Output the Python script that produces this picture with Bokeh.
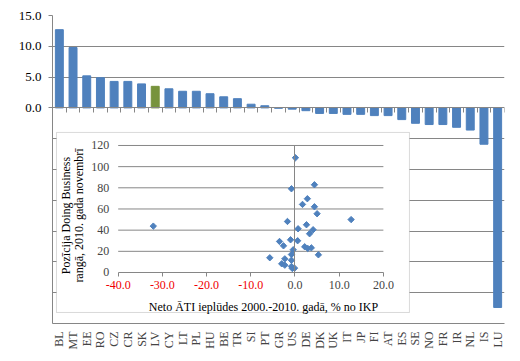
import math
from bokeh.plotting import figure
from bokeh.models import (Range1d, LinearAxis, FixedTicker, Grid, BoxAnnotation, Label,
                          ColumnDataSource, PrintfTickFormatter)
from bokeh.embed import file_html
from bokeh.resources import INLINE

# ---- main bar chart data ----
countries = ["BL", "MT", "EE", "RO", "CZ", "CR", "SK", "LV", "CY", "LT", "PL", "HU", "BE", "TR", "SI",
             "PT", "GR", "US", "DE", "DK", "UK", "IT", "JP", "FI", "AT", "ES", "SE", "NO", "FR", "IR",
             "NL", "IS", "LU"]
bar_values = [12.7, 9.8, 5.2, 4.9, 4.3, 4.3, 3.9, 3.5, 3.1, 2.7, 2.7, 2.3, 1.8, 1.5, 0.6,
              0.35, -0.05, -0.2, -0.45, -0.9, -0.9, -1.05, -1.05, -1.25, -1.25, -1.9, -2.5, -2.7, -2.7, -3.15,
              -3.6, -5.9, -32.4]
highlight = "LV"
main_pos_ticks = [0, 5, 10, 15]
main_neg_ticks = [-35, -30, -25, -20, -15, -10, -5]

# ---- inset scatter data ----
fdi_inflow = [0.1, 4.4, -0.8, 2.8, 1.7, 4.4, 5.0, 12.7, -1.7, 2.6, 0.7, 4.1, 3.3, -3.5, -1.0, 0.6,
              -2.6, 2.2, 2.9, 3.7, -0.4, -0.8, 5.3, -5.7, -2.3, -0.8, -3.0, -2.3, -0.8, -0.6, -0.1, -32.05]
db_rank = [108.4, 82.9, 79.1, 69.7, 64.3, 62.1, 55.5, 50.0, 48.2, 45.1, 41.3, 40.4, 36.6, 29.3, 30.9, 30.0,
           25.2, 24.3, 22.7, 23.3, 21.5, 17.0, 16.7, 13.9, 12.9, 11.6, 8.2, 6.9, 5.7, 3.8, 4.1, 43.8]
inset_x_pos_ticks = [0, 10, 20]
inset_x_neg_ticks = [-40, -30, -20, -10]
inset_y_ticks = [0, 20, 40, 60, 80, 100, 120]
inset_x_title = "Neto ĀTI ieplūdes 2000.-2010. gadā, % no IKP"
inset_y_title = ["Pozīcija Doing Business", "rangā, 2010. gada novembrī"]

FONT = "Liberation Serif"
GREY = "#868686"
BLUE = "#4F81BD"
GREEN = "#77933C"
RED = "#F00000"

n = len(countries)
p = figure(width=520, height=361, x_range=Range1d(0, n), y_range=Range1d(-35, 15),
           x_axis_type=None, y_axis_type=None, output_backend="svg", toolbar_location=None,
           min_border_left=52, min_border_right=16, min_border_top=15, min_border_bottom=38)
p.outline_line_color = None

# inset coordinate systems mapped onto the same frame
p.extra_x_ranges = {"ix": Range1d(-54.86, 47.40)}
p.extra_y_ranges = {"iy": Range1d(-48.2, 242.8)}

grid_ticks = [t for t in main_neg_ticks + main_pos_ticks if t not in (0, -35)]
p.add_layout(Grid(dimension=1, ticker=FixedTicker(ticks=grid_ticks), grid_line_color=GREY))

src = ColumnDataSource(dict(
    x=[i + 0.5 for i in range(n)],
    top=bar_values,
    color=[GREEN if c == highlight else BLUE for c in countries],
))
p.vbar(x="x", top="top", bottom=0, width=0.58, color="color", source=src)

# main y axes: black positive labels, red negative labels
ya = LinearAxis(ticker=FixedTicker(ticks=main_pos_ticks), bounds=(-35, 15),
                formatter=PrintfTickFormatter(format="%.1f"),
                axis_line_color=GREY, major_tick_line_color=GREY, minor_tick_line_color=None,
                major_tick_out=4, major_tick_in=0, major_label_standoff=7,
                major_label_text_font=FONT, major_label_text_font_size="13px",
                major_label_text_color="black")
p.add_layout(ya, "left")
yb = LinearAxis(ticker=FixedTicker(ticks=main_neg_ticks), fixed_location=0,
                formatter=PrintfTickFormatter(format="%.1f"),
                axis_line_color=None, major_tick_line_color=GREY, minor_tick_line_color=None,
                major_tick_out=4, major_tick_in=0, major_label_standoff=7,
                major_label_text_font=FONT, major_label_text_font_size="13px",
                major_label_text_color=RED)
p.add_layout(yb, "left")

# zero line with category boundary ticks
x0 = LinearAxis(ticker=FixedTicker(ticks=list(range(0, n + 1))), fixed_location=0,
                axis_line_color=GREY, major_tick_line_color=GREY, major_tick_out=5, major_tick_in=0,
                minor_tick_line_color=None, major_label_text_color=None)
p.add_layout(x0, "below")

# category labels along the bottom
xc = LinearAxis(ticker=FixedTicker(ticks=[i + 0.5 for i in range(n)]),
                major_label_overrides={i + 0.5: c for i, c in enumerate(countries)},
                major_label_orientation=math.pi / 2,
                axis_line_color=GREY, major_tick_line_color=None, minor_tick_line_color=None,
                major_tick_out=0, major_tick_in=0, major_label_standoff=8,
                major_label_text_font=FONT, major_label_text_font_size="12px")
p.add_layout(xc, "below")

# ---- inset ----
box = BoxAnnotation(left=-53.96, right=25.9, top=132.3, bottom=-37.8,
                    x_range_name="ix", y_range_name="iy",
                    fill_color="white", fill_alpha=1.0, line_color=GREY, line_width=1,
                    level="underlay")
p.add_layout(box)

gl = [t for t in inset_y_ticks if t != 0]
p.segment(x0=[inset_x_neg_ticks[0]] * len(gl), x1=[inset_x_pos_ticks[-1]] * len(gl), y0=gl, y1=gl,
          x_range_name="ix", y_range_name="iy", line_color=GREY, line_width=1)

iv = LinearAxis(x_range_name="ix", y_range_name="iy", fixed_location=0,
                bounds=(inset_y_ticks[0], inset_y_ticks[-1]), ticker=FixedTicker(ticks=[]),
                axis_line_color=GREY, major_tick_line_color=None, minor_tick_line_color=None,
                major_label_text_color=None)
p.add_layout(iv, "left")

iy_ax = LinearAxis(x_range_name="ix", y_range_name="iy", fixed_location=inset_x_neg_ticks[0],
                   bounds=(inset_y_ticks[0], inset_y_ticks[-1]),
                   ticker=FixedTicker(ticks=inset_y_ticks),
                   formatter=PrintfTickFormatter(format="%d"),
                   axis_line_color=None, major_tick_line_color=None, minor_tick_line_color=None,
                   major_tick_out=0, major_tick_in=0, major_label_standoff=9,
                   major_label_text_font=FONT, major_label_text_font_size="12px")
p.add_layout(iy_ax, "left")

ixb = LinearAxis(x_range_name="ix", y_range_name="iy", fixed_location=0,
                 bounds=(inset_x_neg_ticks[0], inset_x_pos_ticks[-1]),
                 ticker=FixedTicker(ticks=inset_x_pos_ticks),
                 formatter=PrintfTickFormatter(format="%.1f"),
                 axis_line_color=GREY, major_tick_line_color=GREY, minor_tick_line_color=None,
                 major_tick_out=4, major_tick_in=0, major_label_standoff=5,
                 major_label_text_font=FONT, major_label_text_font_size="12px")
p.add_layout(ixb, "below")
ixr = LinearAxis(x_range_name="ix", y_range_name="iy", fixed_location=0,
                 bounds=(inset_x_neg_ticks[0], inset_x_pos_ticks[-1]),
                 ticker=FixedTicker(ticks=inset_x_neg_ticks),
                 formatter=PrintfTickFormatter(format="%.1f"),
                 axis_line_color=None, major_tick_line_color=GREY, minor_tick_line_color=None,
                 major_tick_out=4, major_tick_in=0, major_label_standoff=5,
                 major_label_text_font=FONT, major_label_text_font_size="12px",
                 major_label_text_color=RED)
p.add_layout(ixr, "below")

p.scatter(x=fdi_inflow, y=db_rank, x_range_name="ix", y_range_name="iy",
          marker="square", angle=math.pi / 4, size=4.5, color=BLUE)

p.add_layout(Label(x=-7.13, y=-33.07, x_range_name="ix", y_range_name="iy", text=inset_x_title,
                   text_font=FONT, text_font_size="12px", text_align="center",
                   text_baseline="middle", text_color="black"))
for tx, line in zip([-51.7, -48.87], inset_y_title):
    p.add_layout(Label(x=tx, y=53.86, x_range_name="ix", y_range_name="iy", text=line,
                       angle=math.pi / 2, text_font=FONT, text_font_size="12px",
                       text_align="center", text_baseline="middle", text_color="black"))

open("out.html", "w").write(file_html(p, INLINE))
